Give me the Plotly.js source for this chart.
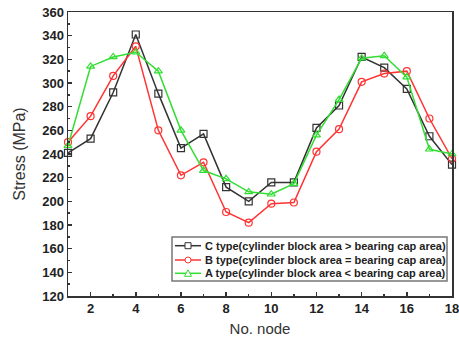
<!DOCTYPE html>
<html><head><meta charset="utf-8">
<script src="https://cdn.plot.ly/plotly-3.0.1.min.js"></script>
<style>html,body{margin:0;padding:0;background:#fff}#chart{width:459px;height:343px}</style>
</head><body><div id="chart"></div>
<script>
const nodes = [1,2,3,4,5,6,7,8,9,10,11,12,13,14,15,16,17,18];
const cType = [241,253,292,341,291,245,257,212,200,216,216,262,281,322,313,295,255,231];
const bType = [250,272,306,331,260,222,233,191,182,198,199,242,261,301,308,310,270,236];
const aType = [247,314,322,326,310,260,226,219,208,206,215,256,286,321,323,305,244,240];
const names = [
  'C type(cylinder block area > bearing cap area)',
  'B type(cylinder block area = bearing cap area)',
  'A type(cylinder block area < bearing cap area)'
];
const xTicks = [2,4,6,8,10,12,14,16,18];
const colors = ['#333333', '#ff3333', '#33dd33'];
const symbols = ['square-open', 'circle-open', 'triangle-up-open'];
const series = [cType, bType, aType];

const traces = series.map((y, i) => ({
  x: nodes, y: y, name: names[i], type: 'scatter', mode: 'lines+markers',
  showlegend: false, cliponaxis: false,
  line: {color: colors[i], width: 1.5},
  marker: {symbol: symbols[i], size: 7, color: colors[i], line: {color: colors[i], width: 1.2}}
}));

// custom compact legend (paper coordinates)
const pl = 68, pr = 452, pt = 12, pb = 296;
const px = v => (v - pl) / (pr - pl);
const py = v => (pb - v) / (pb - pt);
const rowY = [245.7, 260, 273.3];
const shapes = [{
  type: 'rect', xref: 'paper', yref: 'paper',
  x0: px(172), x1: px(447), y0: py(281), y1: py(237),
  fillcolor: '#fff', line: {color: '#777', width: 1.5}, layer: 'above'
}];
const annotations = [];
const mShape = ['rect', 'circle', 'tri'];
rowY.forEach((ry, i) => {
  shapes.push({type: 'line', xref: 'paper', yref: 'paper', x0: px(175), x1: px(201), y0: py(ry), y1: py(ry),
    line: {color: colors[i], width: 1.5}, layer: 'above'});
  const base = {xref: 'paper', yref: 'paper', xsizemode: 'pixel', ysizemode: 'pixel',
    xanchor: px(188), yanchor: py(ry), fillcolor: '#fff', line: {color: colors[i], width: 1}, layer: 'above'};
  if (mShape[i] === 'rect') shapes.push(Object.assign({type: 'rect', x0: -3, x1: 3, y0: -3, y1: 3}, base));
  else if (mShape[i] === 'circle') shapes.push(Object.assign({type: 'circle', x0: -3, x1: 3, y0: -3, y1: 3}, base));
  else shapes.push(Object.assign({type: 'path', path: 'M-3.5,-3 L3.5,-3 L0,3.5 Z'}, base));
  annotations.push({xref: 'paper', yref: 'paper', x: px(203), y: py(ry), xanchor: 'left', yanchor: 'middle',
    text: names[i], showarrow: false,
    font: {family: 'Liberation Sans, Arial, sans-serif', size: 11, color: '#222', weight: 'bold'}});
});

const tickFont = {family: 'Liberation Sans, Arial, sans-serif', size: 13, color: '#222', weight: 'bold'};
const layout = {
  width: 459, height: 343,
  margin: {l: 68, r: 7, t: 12, b: 47},
  paper_bgcolor: '#fff', plot_bgcolor: '#fff',
  showlegend: false,
  shapes: shapes, annotations: annotations,
  xaxis: {
    range: [1, 18], tickvals: xTicks, ticktext: xTicks.map(String), ticklabeloverflow: 'allow',
    ticks: 'inside', ticklen: 4, tickwidth: 1.5, tickcolor: '#333',
    minor: {dtick: 1, tick0: 1, ticks: 'inside', ticklen: 2, tickcolor: '#333'},
    showline: true, linecolor: '#333', linewidth: 1.5, mirror: true,
    showgrid: false, zeroline: false, tickfont: tickFont,
    title: {text: 'No. node', font: {family: 'Liberation Sans, Arial, sans-serif', size: 15, color: '#333'}, standoff: 8}
  },
  yaxis: {
    range: [120, 360], dtick: 20, tick0: 120,
    ticks: 'inside', ticklen: 4, tickwidth: 1.5, tickcolor: '#333',
    minor: {dtick: 10, ticks: 'inside', ticklen: 2, tickcolor: '#333'},
    showline: true, linecolor: '#333', linewidth: 1.5, mirror: true,
    showgrid: false, zeroline: false, tickfont: tickFont,
    title: {text: 'Stress (MPa)', font: {family: 'Liberation Sans, Arial, sans-serif', size: 16, color: '#333'}, standoff: 12}
  }
};
Plotly.newPlot('chart', traces, layout, {displayModeBar: false, staticPlot: true});
</script></body></html>
